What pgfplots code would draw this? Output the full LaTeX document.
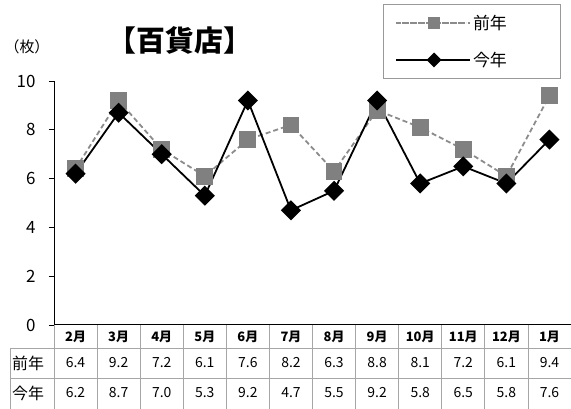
\documentclass[border=0pt]{standalone}
\usepackage{fontspec}
\setmainfont{Noto Sans CJK JP}
\usepackage{pgfplots}
\usepackage{pgfplotstable}
\pgfplotsset{compat=1.18}

% 月別データ（前年・今年）
\pgfplotstableread{
x    month prev curr
0.5  2月   6.4  6.2
1.5  3月   9.2  8.7
2.5  4月   7.2  7.0
3.5  5月   6.1  5.3
4.5  6月   7.6  9.2
5.5  7月   8.2  4.7
6.5  8月   6.3  5.5
7.5  9月   8.8  9.2
8.5  10月  8.1  5.8
9.5  11月  7.2  6.5
10.5 12月  6.1  5.8
11.5 1月   9.4  7.6
}\datatable

\begin{document}
\begin{tikzpicture}[x=1bp,y=1bp]
\useasboundingbox (0,0) rectangle (571bp,409bp);
\begin{axis}[
		at={(54bp,84bp)}, anchor=south west,
		scale only axis, width=517bp, height=244bp,
		xmin=0, xmax=12, ymin=0, ymax=10,
		axis x line*=bottom, axis y line*=left,
		axis line style={-, line width=1bp, black},
		xtick=\empty,
		ytick={0,2,...,10},
		tick align=outside, major tick length=5bp,
		tick style={black, line width=0.8bp},
		yticklabel style={font=\fontsize{17}{17}\selectfont, xshift=-10bp},
		/pgf/number format/assume math mode=true,
		clip=false,
		legend style={at={(axis description cs:0.636,1.316)}, anchor=north west,
			draw=gray!80, line width=0.8bp, font=\fontsize{17}{17}\selectfont,
			row sep=17bp, inner xsep=12bp, inner ysep=9bp, cells={anchor=west}},
		legend image code/.code={\path (0bp,0bp) -- (74bp,0bp);
			\draw[mark repeat=2,mark phase=2, every mark/.append style={scale=0.7}]
				plot coordinates {(6bp,0bp)(38bp,0bp)(70bp,0bp)};},
	]
	\addplot[gray!90, line width=1.8bp, dash pattern=on 5bp off 3bp,
		mark=square*, mark size=7.5bp, mark options={solid, fill=gray, draw=gray}]
		table[x=x, y=prev] {\datatable};
	\addlegendentry{前年\hspace*{40bp}}
	\addplot[black, line width=1.8bp,
		mark=square*, mark size=6.2bp, mark options={solid, rotate=45}]
		table[x=x, y=curr] {\datatable};
	\addlegendentry{今年}
\end{axis}

\node[font=\fontsize{29}{29}\selectfont\bfseries] at (180bp,369bp) {【百貨店】};
\node[font=\fontsize{15}{15}\selectfont] at (27bp,362bp) {（枚）};

% データ表
\foreach \i in {0,...,12}
	\draw[gray!70, line width=0.8bp] ({54+\i*517/12},84) -- ({54+\i*517/12},0);
\draw[gray!70, line width=0.8bp] (10,61) -- (571,61);
\draw[gray!70, line width=0.8bp] (10,31) -- (571,31);
\draw[gray!70, line width=0.8bp] (10,61) -- (10,0);
\node[font=\fontsize{16}{16}\selectfont] at (28,46) {前年};
\node[font=\fontsize{16}{16}\selectfont] at (28,16) {今年};
\foreach \i in {0,...,11} {
	\pgfplotstablegetelem{\i}{month}\of\datatable
	\node[font=\fontsize{13}{13}\selectfont\bfseries] at ({54+(\i+0.5)*517/12},72) {\pgfplotsretval};
	\pgfplotstablegetelem{\i}{prev}\of\datatable
	\node[font=\fontsize{14}{14}\selectfont] at ({54+(\i+0.5)*517/12},46) {\pgfplotsretval};
	\pgfplotstablegetelem{\i}{curr}\of\datatable
	\node[font=\fontsize{14}{14}\selectfont] at ({54+(\i+0.5)*517/12},16) {\pgfplotsretval};
}
\end{tikzpicture}
\end{document}
